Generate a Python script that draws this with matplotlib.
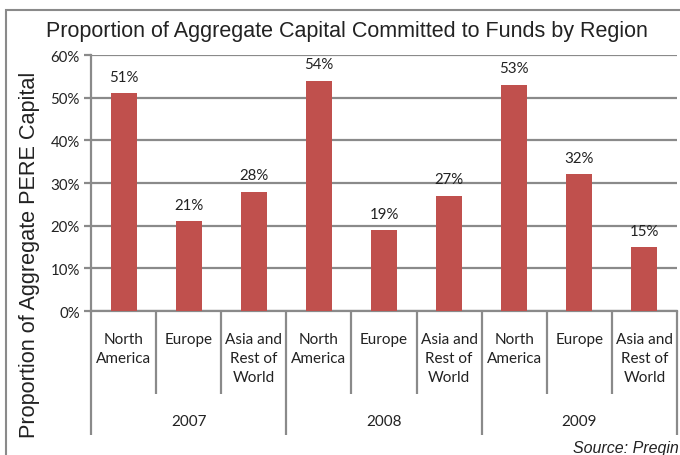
import matplotlib
matplotlib.use("Agg")
import matplotlib.pyplot as plt
from matplotlib.patches import Rectangle
import matplotlib.transforms as mtransforms

years = ["2007", "2008", "2009"]
regions = ["North\nAmerica", "Europe", "Asia and\nRest of\nWorld"]
values = [51, 21, 28, 54, 19, 27, 53, 32, 15]
yticks = [0, 10, 20, 30, 40, 50, 60]
title = "Proportion of Aggregate Capital Committed to Funds by Region"
ylabel = "Proportion of Aggregate PERE Capital"
source = "Source: Preqin"

W, H = 680, 456
fig = plt.figure(figsize=(W / 100, H / 100), dpi=100)
fig.patch.set_facecolor("white")

grey = "#8a8a8a"
bar_color = "#C0504D"
cat_font = ["Lato", "DejaVu Sans"]
arial = ["Liberation Sans", "DejaVu Sans"]

# outer frame
fig.patches.append(Rectangle((6 / W, -0.1), 2, 1 - 11 / H + 0.1, transform=fig.transFigure,
                             fill=False, edgecolor=grey, lw=1.5))

left, right, top, bottom = 91, 677, 56, 312
ax = fig.add_axes([left / W, 1 - bottom / H, (right - left) / W, (bottom - top) / H])

n = len(values)
xs = [i + 0.5 for i in range(n)]
ax.bar(xs, values, width=0.4, color=bar_color, zorder=3)
for x, v in zip(xs, values):
    ax.text(x, v + 2.2, f"{v}%", ha="center", va="bottom", fontsize=10.8,
            family=cat_font, color="#222222")

ax.set_xlim(0, n)
ax.set_ylim(0, 60)
ax.set_yticks(yticks)
ax.set_yticklabels([f"{t}%" for t in yticks], family=cat_font, fontsize=10.8)
ax.set_xticks([])
ax.yaxis.grid(True, color=grey, lw=1.6, zorder=0)
ax.set_axisbelow(True)
for s in ["top", "right"]:
    ax.spines[s].set_visible(False)
for s in ["left", "bottom"]:
    ax.spines[s].set_color(grey)
    ax.spines[s].set_linewidth(1.6)
ax.tick_params(axis="y", direction="out", length=5, width=1.6, color=grey, pad=3,
               labelcolor="#222222")

trans = mtransforms.blended_transform_factory(ax.transData, ax.transAxes)
ah = bottom - top
for k in range(n + 1):
    if k % 3 == 0:
        y2 = -(436 - bottom) / ah
    else:
        y2 = -(395 - bottom) / ah
    ax.plot([k, k], [0, y2], transform=trans, color=grey, lw=1.6, clip_on=False,
            solid_capstyle="butt")

for i, x in enumerate(xs):
    ax.text(x, -(333 - bottom) / ah, regions[i % 3], transform=trans, ha="center",
            va="top", fontsize=11, family=cat_font, linespacing=1.45, color="#222222")

for g, yr in enumerate(years):
    ax.text(g * 3 + 1.5, -(422 - bottom) / ah, yr, transform=trans, ha="center",
            va="center", fontsize=11, family=cat_font, color="#222222")

fig.text(347 / W, 1 - 31 / H, title, ha="center", va="center", fontsize=15.5,
         family=arial, color="#222222")
fig.text(30 / W, 1 - 255 / H, ylabel, ha="center", va="center", rotation=90,
         fontsize=15.6, family=arial, color="#222222")
fig.text(679 / W, 1 - 449 / H, source, ha="right", va="center", fontsize=11.5,
         family=arial, style="italic", color="#222222")

fig.savefig("out.png", dpi=100)
